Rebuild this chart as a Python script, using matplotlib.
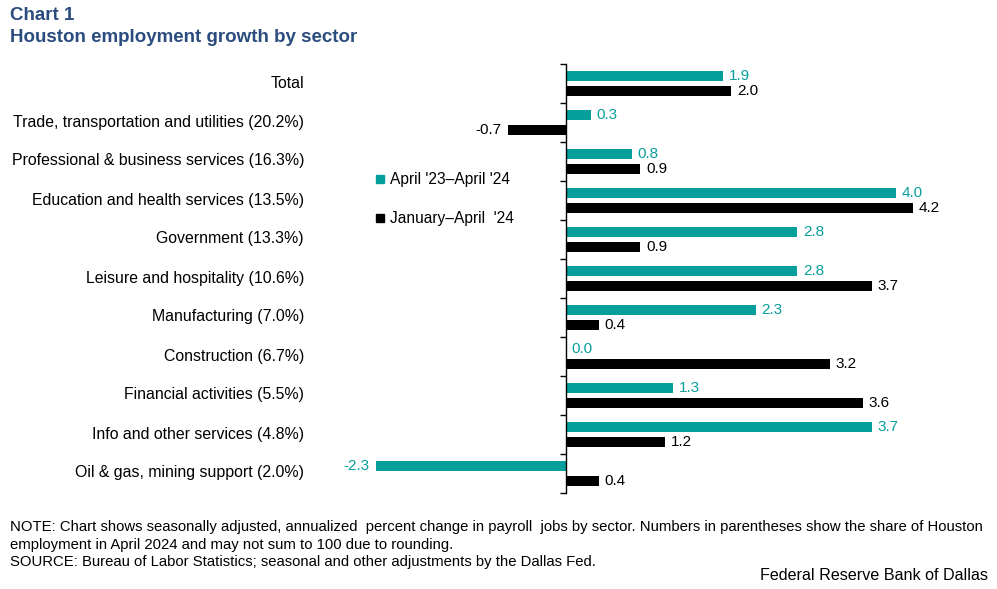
import matplotlib
matplotlib.use("Agg")
import matplotlib.pyplot as plt
from matplotlib.lines import Line2D
import numpy as np

categories = ["Total", "Trade, transportation and utilities (20.2%)",
              "Professional & business services (16.3%)",
              "Education and health services (13.5%)", "Government (13.3%)",
              "Leisure and hospitality (10.6%)", "Manufacturing (7.0%)",
              "Construction (6.7%)", "Financial activities (5.5%)",
              "Info and other services (4.8%)", "Oil & gas, mining support (2.0%)"]
yoy = [1.9, 0.3, 0.8, 4.0, 2.8, 2.8, 2.3, 0.0, 1.3, 3.7, -2.3]
ytd = [2.0, -0.7, 0.9, 4.2, 0.9, 3.7, 0.4, 3.2, 3.6, 1.2, 0.4]
series_names = ["April '23\u2013April '24", "January\u2013April  '24"]

TEAL = "#069f9c"
BLACK = "#000000"
TITLE = "#2b4c7e"

plt.rcParams['font.family'] = ['Liberation Sans', 'DejaVu Sans']

W, H = 997, 589
fig = plt.figure(figsize=(W/100, H/100), dpi=100)
ax = fig.add_axes([318.2/W, 1-493/H, 644.3/W, 429/H])

n = len(categories)
y = np.arange(n)
bh = 0.27
off = 0.19
ax.barh(y - off, yoy, height=bh, color=TEAL)
ax.barh(y + off, ytd, height=bh, color=BLACK)
ax.set_xlim(-3, 4.8)
ax.set_ylim(n - 0.5, -0.5)

for i in range(n):
    for v, dy, c in ((yoy[i], -off, TEAL), (ytd[i], off, BLACK)):
        if v >= 0:
            ax.annotate(f"{v:.1f}", (v, i + dy), xytext=(4, 0), textcoords="offset points",
                        ha="left", va="center", fontsize=11, color=c)
        else:
            ax.annotate(f"{v:.1f}", (v, i + dy), xytext=(-5, 0), textcoords="offset points",
                        ha="right", va="center", fontsize=11, color=c)
    fig.text(304/W, 1 - (83 + 39*i)/H, categories[i], ha="right", va="center", fontsize=11.4)

for s in ["top", "right", "bottom"]:
    ax.spines[s].set_visible(False)
ax.spines["left"].set_position(("data", 0))
ax.spines["left"].set_linewidth(1.0)
ax.set_xticks([])
ax.set_yticks(np.arange(n + 1) - 0.5)
ax.set_yticklabels([])
ax.tick_params(axis="y", direction="out", length=4, width=1)

handles = [Line2D([], [], marker="s", linestyle="none", color=TEAL, markersize=6),
           Line2D([], [], marker="s", linestyle="none", color=BLACK, markersize=6)]
fig.legend(handles, series_names, loc="upper left", bbox_to_anchor=(368/W, 1-166/H),
           frameon=False, fontsize=11.2, handletextpad=0.2, labelspacing=1.55,
           handlelength=0.8, borderaxespad=0)

fig.text(10/W, 1-16/H, "Chart 1", fontsize=13.5, fontweight="bold", color=TITLE, va="center")
fig.text(10/W, 1-38/H, "Houston employment growth by sector", fontsize=13.5, fontweight="bold",
         color=TITLE, va="center")

nf = ['Liberation Sans', 'DejaVu Sans']
fig.text(10/W, 1-527/H, "NOTE: Chart shows seasonally adjusted, annualized  percent change in payroll  jobs by sector. Numbers in parentheses show the share of Houston",
         fontsize=10.7, family=nf, va="center")
fig.text(10/W, 1-545/H, "employment in April 2024 and may not sum to 100 due to rounding.",
         fontsize=10.7, family=nf, va="center")
fig.text(10/W, 1-562/H, "SOURCE: Bureau of Labor Statistics; seasonal and other adjustments by the Dallas Fed.",
         fontsize=10.7, family=nf, va="center")
fig.text(988/W, 1-576/H, "Federal Reserve Bank of Dallas", fontsize=11.6, family=nf,
         ha="right", va="center")

fig.savefig("out.png", dpi=100)
